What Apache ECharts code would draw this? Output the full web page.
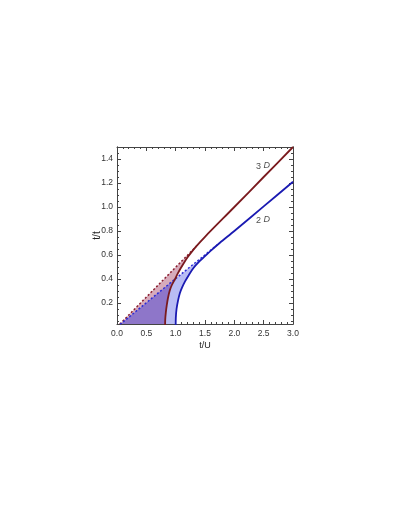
<!DOCTYPE html>
<html>
<head>
<meta charset="utf-8">
<script src="https://cdn.jsdelivr.net/npm/echarts@6/dist/echarts.min.js"></script>
<style>
  html, body { margin: 0; padding: 0; background: #fff; }
  #chart { width: 409px; height: 529px; }
</style>
</head>
<body>
<div id="chart"></div>
<script>
// curves (t/U, t_c/t)
var curve3D = [[0.82,0.0],[0.822,0.06],[0.832,0.12],[0.848,0.18],[0.868,0.24],[0.897,0.30],
  [0.935,0.35],[0.99,0.40],[1.03,0.44],[1.08,0.485],[1.14,0.534],[1.2,0.579],[1.26,0.618],
  [1.35,0.672],[1.5,0.752],[2.0,1.0],[2.5,1.25],[3.0,1.5]];
var curve2D = [[1.0,0.0],[1.003,0.08],[1.015,0.15],[1.04,0.22],[1.07,0.28],[1.11,0.33],
  [1.16,0.38],[1.22,0.43],[1.3,0.49],[1.4,0.545],[1.5,0.59],[1.62,0.645],[1.75,0.70],
  [2.0,0.80],[2.5,1.005],[3.0,1.21]];
var dash3D = [[0,0],[1.35,0.672]];
var dash2D = [[0,0],[0.99,0.40],[1.75,0.70]];
var yTicks = [0.2, 0.4, 0.6, 0.8, 1.0, 1.2, 1.4];
var yMinor = [0.05,0.1,0.15,0.25,0.3,0.35,0.45,0.5,0.55,0.65,0.7,0.75,0.85,0.9,0.95,
  1.05,1.1,1.15,1.25,1.3,1.35,1.45,1.5];
var curveNames = [['3', 'D', 2.49, 1.35], ['2', 'D', 2.49, 0.90]];

// polygons of the shaded regions
var pinkPoly = dash3D.concat(curve3D.filter(function (p) { return p[0] < 1.35; }).reverse());
var bluePoly = dash2D.concat(curve2D.filter(function (p) { return p[0] < 1.75; }).reverse());
var purplePoly = [[0,0],[0.99,0.40]].concat(curve3D.filter(function (p) { return p[1] < 0.40; }).reverse());

function poly(points, color, z) {
    return {
        type: 'custom', coordinateSystem: 'cartesian2d', clip: true, silent: true, z: z,
        data: [[0, 0]], encode: { x: 0, y: 1 },
        renderItem: function (params, api) {
            return {
                type: 'polygon',
                shape: { points: points.map(function (p) { return api.coord(p); }) },
                style: { fill: color }
            };
        }
    };
}

function line(data, color, type, width) {
    return {
        type: 'line', data: data, showSymbol: false, silent: true, z: 5,
        smooth: type === 'solid' ? 0.3 : false,
        lineStyle: { color: color, width: width, type: type === 'solid' ? 'solid' : [2, 2] }
    };
}

var frame = { show: true, lineStyle: { color: '#444', width: 1 } };
var font = 'Liberation Sans';

function xAx(pos, labels) {
    return {
        type: 'value', min: 0, max: 3, interval: 0.5, position: pos,
        axisLine: frame, splitLine: { show: false },
        axisTick: { inside: true, length: 4, lineStyle: { color: '#444' } },
        minorTick: { show: true, splitNumber: 5, length: 2, lineStyle: { color: '#444' } },
        axisLabel: { show: labels, fontFamily: font, fontSize: 8.5, color: '#333', margin: 5,
            formatter: function (v) { return v.toFixed(1); } },
        name: labels ? 't/U' : '', nameLocation: 'middle', nameGap: 17, nameMoveOverlap: false,
        nameTextStyle: { fontFamily: font, fontSize: 9, color: '#222' }
    };
}

function yAx(pos, labels, ticks, len) {
    return {
        type: 'value', min: 0.025, max: 1.5, position: pos,
        axisLine: frame, splitLine: { show: false },
        axisTick: { inside: true, length: len, customValues: ticks, lineStyle: { color: '#444' } },
        axisLabel: { show: labels, customValues: yTicks, fontFamily: font, fontSize: 8.5, color: '#333', margin: 4,
            formatter: function (v) { return v.toFixed(1); } },
        name: labels ? 't/t' : '', nameLocation: 'middle', nameGap: 15, nameRotate: 90,
        nameMoveOverlap: false,
        nameTextStyle: { fontFamily: font, fontSize: 10, color: '#222' }
    };
}

var chart = echarts.init(document.getElementById('chart'));
var option = {
    backgroundColor: '#fff',
    animation: false,
    grid: { left: 117, right: 116, top: 147, bottom: 205 },
    xAxis: [xAx('bottom', true), xAx('top', false)],
    yAxis: [yAx('left', true, yTicks, 4), yAx('left', false, yMinor, 2),
            yAx('right', false, yTicks, 4), yAx('right', false, yMinor, 2)],
    series: [
        poly(pinkPoly, '#d7abbb', 1),
        poly(bluePoly, '#b8bcf4', 2),
        poly(purplePoly, '#8e76c9', 3),
        line(dash3D, '#8a1e2e', 'dash', 1.5),
        line(dash2D, '#2b2bd6', 'dash', 1.5),
        line(curve3D, '#7a1a1e', 'solid', 1.8),
        line(curve2D, '#1a1ab2', 'solid', 1.8),
        {
            type: 'scatter', symbolSize: 0, silent: true, z: 6,
            data: curveNames.map(function (c) { return { value: [c[2], c[3]], n: c[0], d: c[1] }; }),
            label: {
                show: true, position: 'inside',
                formatter: function (p) { return '{n|' + p.data.n + ' }{i|' + p.data.d + '}'; },
                rich: {
                    n: { fontFamily: font, fontSize: 9, color: '#222', lineHeight: 12, verticalAlign: 'bottom' },
                    i: { fontStyle: 'italic', fontFamily: font, fontSize: 9, color: '#222', lineHeight: 12,
                         verticalAlign: 'bottom', padding: [0, 0, 1, 0] }
                }
            }
        }
    ]
};
chart.setOption(option);
window.onresize = chart.resize;
</script>
</body>
</html>
